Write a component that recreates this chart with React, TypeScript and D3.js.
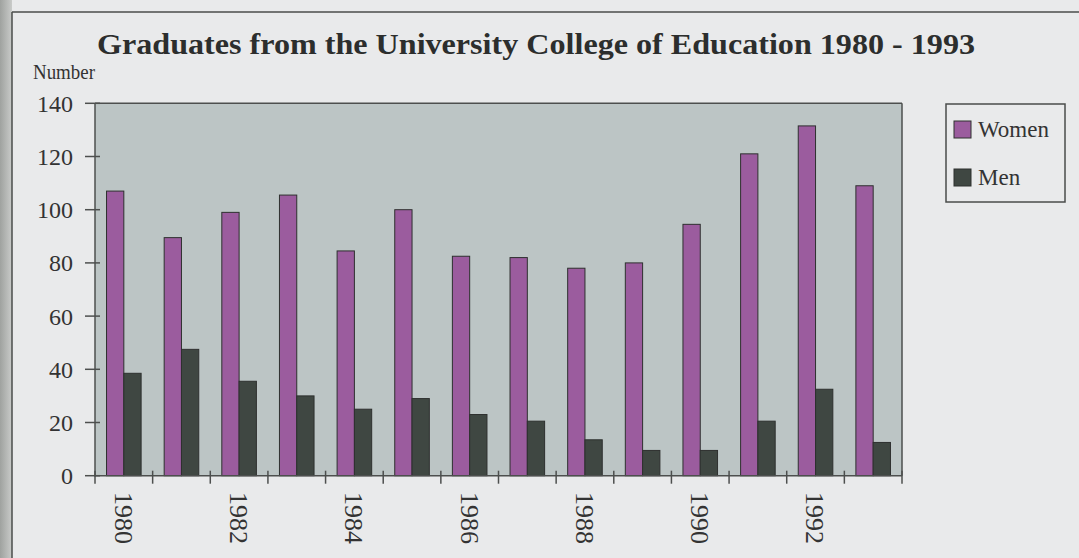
import React from 'react';
import * as d3 from 'd3';

const years = ['1980', '1981', '1982', '1983', '1984', '1985', '1986', '1987', '1988', '1989', '1990', '1991', '1992', '1993'];
const women = [107, 89.5, 99, 105.5, 84.5, 100, 82.5, 82, 78, 80, 94.5, 121, 131.5, 109];
const men = [38.5, 47.5, 35.5, 30, 25, 29, 23, 20.5, 13.5, 9.5, 9.5, 20.5, 32.5, 12.5];
const yTicks = [0, 20, 40, 60, 80, 100, 120, 140];
const labeledYears = ['1980', '1982', '1984', '1986', '1988', '1990', '1992'];
const seriesNames = ['Women', 'Men'];
const seriesColors = ['#9b5c9e', '#3f4742'];
const title = 'Graduates from the University College of Education 1980 - 1993';
const yLabel = 'Number';

const W = 1079;
const H = 558;
const plotL = 95;
const plotR = 902;
const plotT = 103.3;
const plotB = 475.7;
const serif = '"Liberation Serif", "DejaVu Serif", serif';

export default function App() {
  const x = d3.scaleBand<string>().domain(years).range([plotL, plotR]).paddingInner(0.4).paddingOuter(0.2);
  const xs = d3.scaleBand<string>().domain(seriesNames).range([0, x.bandwidth()]).padding(0);
  const y = d3.scaleLinear().domain([0, 140]).range([plotB, plotT]);
  const step = x.step();
  const boundaries = d3.range(years.length + 1).map((i) => plotL + i * step);
  const values = [women, men];

  return (
    <svg width={W} height={H} style={{ position: 'absolute', left: 0, top: 0, display: 'block' }}>
      <defs>
        <linearGradient id="edge" x1="0" x2="1" y1="0" y2="0">
          <stop offset="0" stopColor="#9fa29f" />
          <stop offset="1" stopColor="#c9cbc9" />
        </linearGradient>
      </defs>
      <rect x={0} y={0} width={W} height={H} fill="#e9eaeb" />
      <rect x={0} y={0} width={12} height={H} fill="url(#edge)" />
      <line x1={12} y1={12} x2={W} y2={12} stroke="#4a4c4b" strokeWidth={1.5} />
      <line x1={12} y1={12} x2={12} y2={H} stroke="#4a4c4b" strokeWidth={1.5} />

      <text x={97} y={54} fontFamily={serif} fontWeight="bold" fontSize={30} fill="#2c2e2d"
        textLength={878} lengthAdjust="spacingAndGlyphs">{title}</text>
      <text x={33} y={79} fontFamily={serif} fontSize={20} fill="#333" textLength={62}
        lengthAdjust="spacingAndGlyphs">{yLabel}</text>

      <rect x={plotL} y={plotT} width={plotR - plotL} height={plotB - plotT} fill="#bcc5c5" />

      {years.map((yr, i) => (
        <g key={yr}>
          {seriesNames.map((s, k) => (
            <rect key={s} x={(x(yr) as number) + (xs(s) as number)} y={y(values[k][i])}
              width={xs.bandwidth()} height={plotB - y(values[k][i])}
              fill={seriesColors[k]} stroke="#2e302f" strokeWidth={1} />
          ))}
        </g>
      ))}

      <line x1={plotL} y1={plotT} x2={plotR} y2={plotT} stroke="#4d4f4e" strokeWidth={1.5} />
      <line x1={plotR} y1={plotT} x2={plotR} y2={plotB} stroke="#4d4f4e" strokeWidth={1.5} />
      <line x1={plotL} y1={plotT} x2={plotL} y2={plotB + 1} stroke="#4d4f4e" strokeWidth={1.5} />
      <line x1={plotL} y1={plotB} x2={plotR} y2={plotB} stroke="#4d4f4e" strokeWidth={1.5} />

      {yTicks.map((t) => (
        <g key={t}>
          <line x1={plotL - 10} x2={plotL + 5} y1={y(t)} y2={y(t)} stroke="#4d4f4e" strokeWidth={1.5} />
          <text x={73} y={y(t)} dy="0.35em" textAnchor="end" fontFamily={serif} fontSize={24} fill="#333">{t}</text>
        </g>
      ))}

      {boundaries.map((bx, i) => (
        <line key={i} x1={bx} x2={bx} y1={plotB - 5} y2={plotB + 8} stroke="#4d4f4e" strokeWidth={1.5} />
      ))}

      {labeledYears.map((yr) => {
        const cx = (x(yr) as number) + x.bandwidth() / 2;
        return (
          <text key={yr} transform={`translate(${cx},${492}) rotate(90)`} dy="0.35em" textAnchor="start"
            fontFamily={serif} fontSize={26} fill="#333">{yr}</text>
        );
      })}

      <rect x={946} y={104} width={119} height={98} fill="none" stroke="#4a4c4b" strokeWidth={1.5} />
      {seriesNames.map((s, k) => (
        <g key={s}>
          <rect x={954} y={121 + k * 48} width={17} height={17} fill={seriesColors[k]} stroke="#2e302f" strokeWidth={1} />
          <text x={978} y={137 + k * 48} fontFamily={serif} fontSize={23} fill="#333">{s}</text>
        </g>
      ))}
    </svg>
  );
}
